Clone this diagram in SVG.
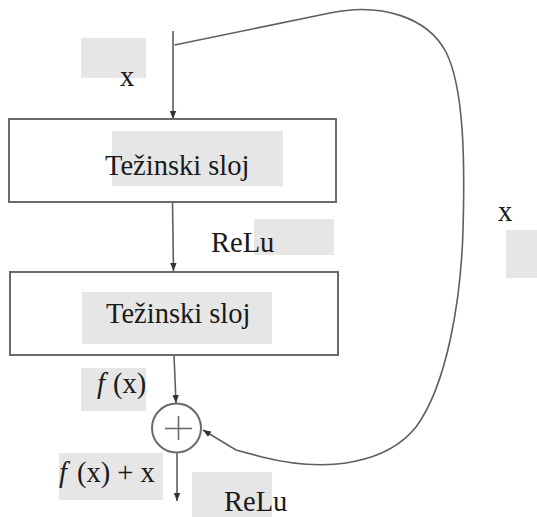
<svg xmlns="http://www.w3.org/2000/svg" width="537" height="517" viewBox="0 0 537 517">
<style>
.hl{fill:#e6e6e6;stroke:none}
.box{fill:#fff;stroke:#6a6a6a;stroke-width:2}
.t{font-family:"Liberation Serif","Times New Roman",serif;font-size:28.5px;fill:#1a1a1a}
.i{font-style:italic}
.c{fill:none;stroke:#5f5f5f;stroke-width:1.6}
</style>
<defs>
<marker id="ah" markerUnits="userSpaceOnUse" markerWidth="10" markerHeight="10" refX="8" refY="4" orient="auto">
<path d="M0,0.8 L8,4 L0,7.2 Z" fill="#333"/>
</marker>
</defs>
<rect width="537" height="517" fill="#fff"/>
<g id="connectors">
<line class="c" x1="173" y1="31" x2="173" y2="119" marker-end="url(#ah)"/>
<line class="c" x1="172.5" y1="202" x2="173.5" y2="271" marker-end="url(#ah)"/>
<line class="c" x1="174" y1="355" x2="176" y2="403" marker-end="url(#ah)"/>
<line class="c" x1="177" y1="452" x2="177" y2="501" marker-end="url(#ah)"/>
<path class="c" d="M174.5,45 L330,13 C382,2 428,18 446,52 C464,88 465,160 463,230 C461,300 447,385 416,427 C388,462 330,474 262,457 L236,450 L203,430" marker-end="url(#ah)"/>
</g>
<g id="input-x">
<rect class="hl" x="81" y="38" width="65" height="40"/>
<text class="t" x="120" y="86">x</text>
</g>
<g id="layer1">
<rect class="box" x="9" y="119" width="327" height="83"/>
<rect class="hl" x="112" y="131" width="171" height="55"/>
<text class="t" x="105" y="175">Težinski sloj</text>
</g>
<g id="relu1">
<rect class="hl" x="254" y="219" width="80" height="36"/>
<text class="t" x="211" y="252">ReLu</text>
</g>
<g id="layer2">
<rect class="box" x="10" y="272" width="328" height="83"/>
<rect class="hl" x="82" y="292" width="190" height="52"/>
<text class="t" x="106" y="323">Težinski sloj</text>
</g>
<g id="fx">
<rect class="hl" x="81" y="368" width="65" height="43"/>
<text class="t"><tspan class="i" x="97" y="393">f</tspan><tspan x="113" y="393">(x)</tspan></text>
</g>
<g id="sum">
<circle cx="176.5" cy="428" r="24.5" fill="#fff" stroke="#6a6a6a" stroke-width="2"/>
<line x1="165" y1="428.5" x2="192" y2="428.5" stroke="#6a6a6a" stroke-width="1.6"/>
<line x1="178.5" y1="416" x2="178.5" y2="440" stroke="#6a6a6a" stroke-width="1.6"/>
</g>
<g id="fx-plus-x">
<rect class="hl" x="59" y="453" width="104" height="47"/>
<text class="t"><tspan class="i" x="59" y="482">f</tspan><tspan x="77" y="482">(x) + x</tspan></text>
</g>
<g id="relu2">
<rect class="hl" x="192" y="472" width="80" height="45"/>
<text class="t" x="224" y="511">ReLu</text>
</g>
<g id="skip-x">
<rect class="hl" x="506" y="230" width="31" height="48"/>
<text class="t" x="498" y="221">x</text>
</g>
</svg>
